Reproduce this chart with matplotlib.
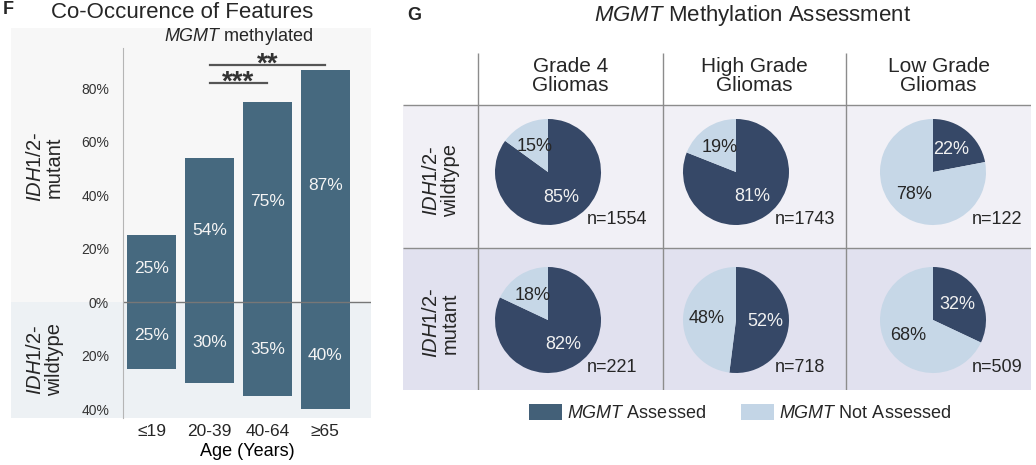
import matplotlib as mpl
import matplotlib.pyplot as plt
from matplotlib.patches import Patch

# ---- data ----
age_groups = ["≤19", "20-39", "40-64", "≥65"]
mutant_pct = [25, 54, 75, 87]
wildtype_pct = [25, 30, 35, 40]
y_ticks = [80, 60, 40, 20, 0, -20, -40]
sig_pairs = [(1, 2, 82, "***"), (1, 3, 88.7, "**")]

grade_cols = ["Grade 4\nGliomas", "High Grade\nGliomas", "Low Grade\nGliomas"]
idh_rows = ["$\\mathit{IDH1/2}$-\nwildtype", "$\\mathit{IDH1/2}$-\nmutant"]
assessed_pct = [[85, 81, 22],
                [82, 52, 32]]
n_counts = [[1554, 1743, 122],
            [221, 718, 509]]

# ---- style ----
mpl.rcParams['font.family'] = ['Liberation Sans', 'DejaVu Sans']
mpl.rcParams['mathtext.fontset'] = 'custom'
mpl.rcParams['mathtext.rm'] = 'Liberation Sans'
mpl.rcParams['mathtext.it'] = 'Liberation Sans:italic'
mpl.rcParams['mathtext.bf'] = 'Liberation Sans:bold'
mpl.rcParams['text.color'] = '#262626'

W, H = 1036, 465
fig = plt.figure(figsize=(W / 100, H / 100), dpi=100)


def px(x0, y0, x1, y1):
    # pixel box -> figure rect
    return [x0 / W, 1 - y1 / H, (x1 - x0) / W, (y1 - y0) / H]


bar_color = "#46697f"
dark = "#364867"
light = "#c6d7e7"

# ===== panel F : bars =====
zero_px, ppu = 302.3, 2.675
bg = fig.add_axes(px(11, 28, 371, 418))
bg.set_ylim(-(418 - zero_px) / ppu, (zero_px - 28) / ppu)
bg.axhspan(0, 200, color="#f7f7f7", lw=0)
bg.axhspan(-200, 0, color="#edf1f4", lw=0)
bg.axis("off")

ax = fig.add_axes(px(123, 48, 371, 418))
ax.patch.set_alpha(0)
ax.set_ylim(-(418 - zero_px) / ppu, (zero_px - 48) / ppu)
ax.set_xlim(-0.494, 3.789)
xs = range(len(age_groups))
top = ax.bar(xs, mutant_pct, width=0.85, color=bar_color)
bot = ax.bar(xs, [-v for v in wildtype_pct], width=0.85, color=bar_color)
ax.bar_label(top, labels=[f"{v}%" for v in mutant_pct], label_type="center",
             color="#f4f4f4", fontsize=12.5)
ax.bar_label(bot, labels=[f"{v}%" for v in wildtype_pct], label_type="center",
             color="#f4f4f4", fontsize=12.5)
ax.axhline(0, color="#777777", lw=1)

for s in ["top", "right", "bottom"]:
    ax.spines[s].set_visible(False)
ax.spines["left"].set_color("#b5b5b5")
ax.set_yticks(y_ticks)
ax.set_yticklabels([f"{abs(t)}%" for t in y_ticks])
ax.set_xticks(list(xs))
ax.set_xticklabels(age_groups)
ax.tick_params(axis="y", length=0, pad=10, labelsize=10, labelcolor="#333333")
ax.tick_params(axis="x", length=0, pad=4, labelsize=12.5, labelcolor="#262626")
ax.set_xlabel("Age (Years)", fontsize=13, labelpad=3)

for x0, x1, yv, stars in sig_pairs:
    ax.plot([x0, x1], [yv, yv], color="#555555", lw=1.6, clip_on=False)
    ax.text((x0 + x1) / 2, yv - 2.6, stars, ha="center", va="baseline",
            fontsize=20, fontweight="bold", color="#333333")

ax.text(1.5, 99.2, "$\\mathit{MGMT}$ methylated", ha="center", va="center",
        fontsize=13)

fig.text(45 / W, 1 - 167 / H, "$\\mathit{IDH1/2}$-\nmutant", rotation=90,
         ha="center", va="center", fontsize=14.5, linespacing=1.0)
fig.text(45 / W, 1 - 360 / H, "$\\mathit{IDH1/2}$-\nwildtype", rotation=90,
         ha="center", va="center", fontsize=14.5, linespacing=1.0)
fig.text(182.5 / W, 1 - 13 / H, "Co-Occurence of Features", ha="center",
         va="center", fontsize=16)
fig.text(8 / W, 1 - 10 / H, "F", ha="center", va="center", fontsize=13,
         fontweight="bold")

# ===== panel G : pie grid =====
col_edges = [478, 663, 846, 1031]
row_edges = [105, 248, 390]
tab = fig.add_axes(px(403, 52, 1031, 390))
tab.set_xlim(403, 1031)
tab.set_ylim(390, 52)
tab.axhspan(row_edges[0], row_edges[1], color="#f1f0f6", lw=0)
tab.axhspan(row_edges[1], row_edges[2], color="#e1e1ef", lw=0)
tab.vlines(col_edges[:3], 53, 390, color="#8c8c8c", lw=1)
tab.hlines(row_edges[:2], 403, 1031, color="#8c8c8c", lw=1)
tab.axis("off")

for j, name in enumerate(grade_cols):
    tab.text((col_edges[j] + col_edges[j + 1]) / 2, 76, name, ha="center",
             va="center", fontsize=15, linespacing=1.0)
for i, name in enumerate(idh_rows):
    tab.text(441, (row_edges[i] + row_edges[i + 1]) / 2 + 4, name, rotation=90,
             ha="center", va="center", fontsize=14.5, linespacing=1.0)

pie_cx = [548, 736, 933]
pie_cy = [172, 320]
r = 53
for i in range(2):
    for j in range(3):
        a = assessed_pct[i][j]
        pax = fig.add_axes(px(pie_cx[j] - r, pie_cy[i] - r,
                              pie_cx[j] + r, pie_cy[i] + r))
        wedges, texts, autotexts = pax.pie(
            [a, 100 - a], colors=[dark, light], startangle=90,
            counterclock=False, autopct=lambda p: f"{p:.0f}%",
            pctdistance=0.55, wedgeprops=dict(linewidth=0),
            textprops=dict(fontsize=13))
        autotexts[0].set_color("#f2f2f2")
        autotexts[1].set_color("#262626")
        pax.set_xlim(-1, 1)
        pax.set_ylim(-1, 1)
        pax.text(0.74, -0.9, f"n={n_counts[i][j]}", ha="left", va="center",
                 fontsize=13, clip_on=False)

fig.text(753 / W, 1 - 15 / H, "$\\mathit{MGMT}$ Methylation Assessment",
         ha="center", va="center", fontsize=16)
fig.text(414 / W, 1 - 15 / H, "G", ha="center", va="center", fontsize=13,
         fontweight="bold")

handles = [Patch(facecolor="#436078"), Patch(facecolor="#c3d5e6")]
fig.legend(handles, ["$\\mathit{MGMT}$ Assessed", "$\\mathit{MGMT}$ Not Assessed"],
           loc="center", bbox_to_anchor=(740 / W, 1 - 413 / H), ncol=2,
           frameon=False, fontsize=13, handlelength=1.85, handleheight=1.0,
           handletextpad=0.3, columnspacing=1.9)

fig.savefig("out.png", dpi=100)
